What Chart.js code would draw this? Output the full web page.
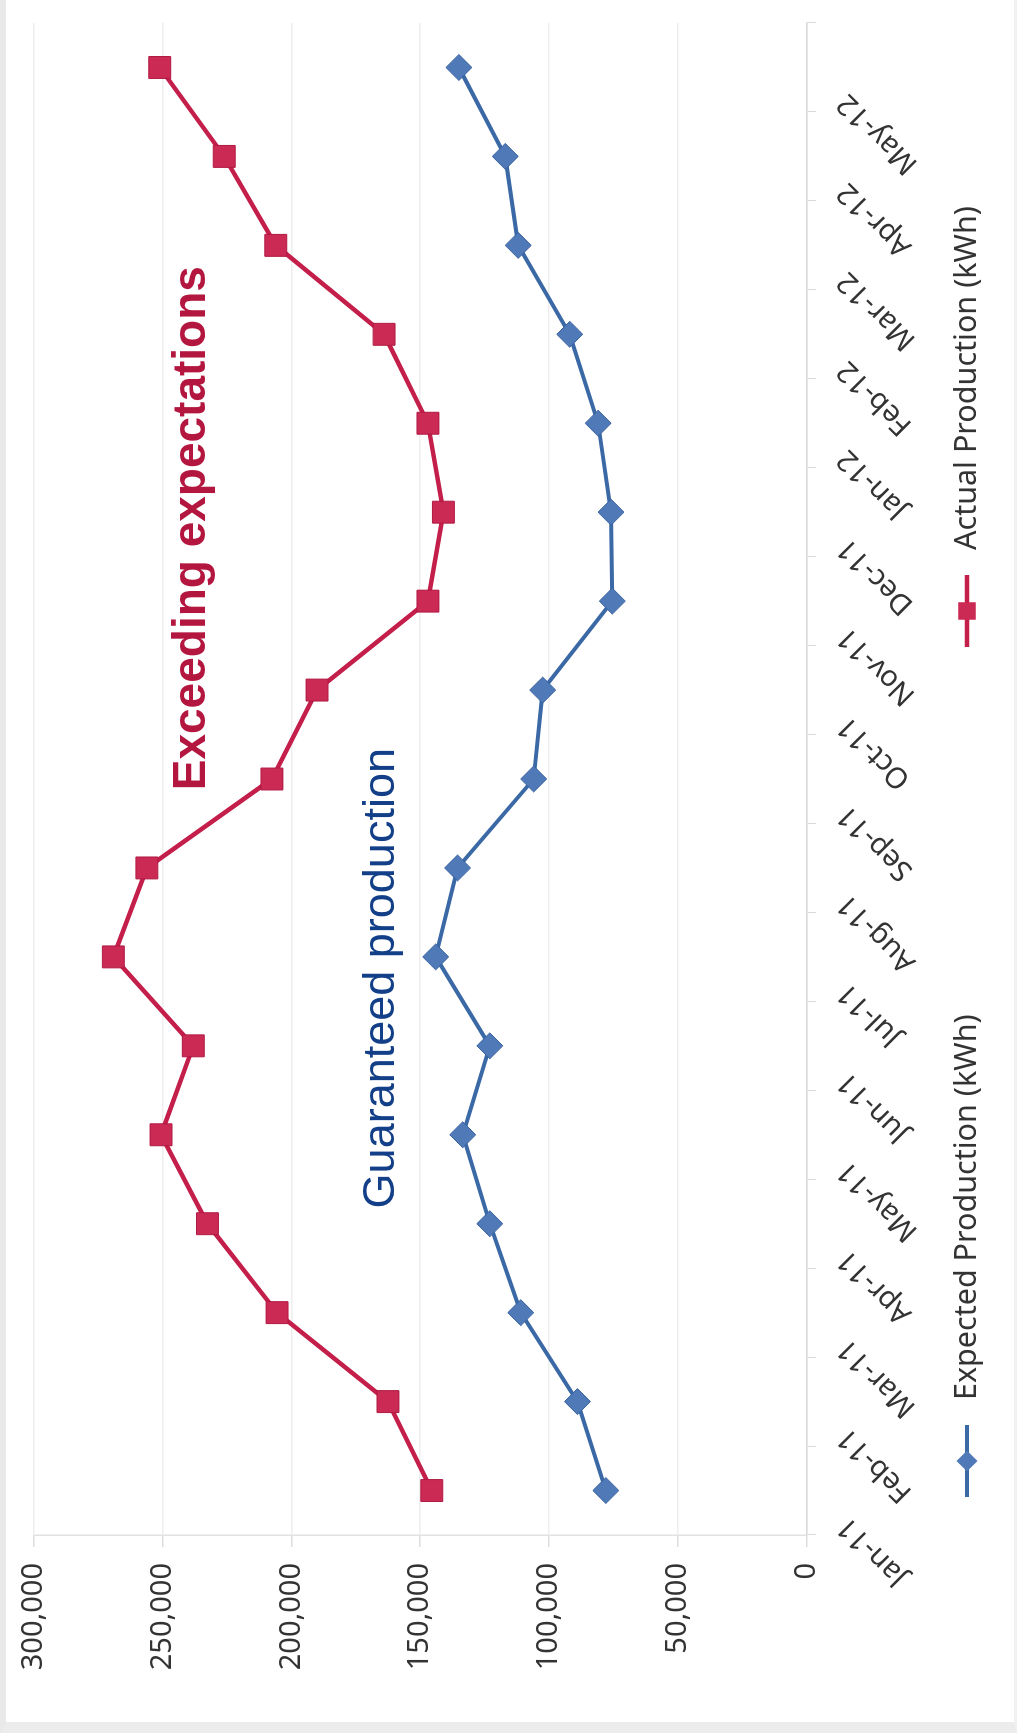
<!DOCTYPE html>
<html>
<head>
<meta charset="utf-8">
<script src="https://cdn.jsdelivr.net/npm/chart.js@4.4.1/dist/chart.umd.min.js"></script>
<style>
  html, body { margin: 0; padding: 0; background: #fff; }
  body { width: 1017px; height: 1733px; overflow: hidden; position: relative; }
  /* the chart is laid out landscape, then turned a quarter turn to the left like the scan */
  #frame { position: absolute; left: 0; top: 0; width: 1733px; height: 1017px;
    transform-origin: 0 0; transform: translateY(1733px) rotate(-90deg); background: #fff; }
  #frame::after { content: ''; position: absolute; inset: 0; pointer-events: none;
    border-top: 6px solid #e9e9e9; border-left: 11px solid #ececec; border-bottom: 3px solid #f1f1f1; }
  #chart { position: absolute; left: 0; top: 0; }
</style>
</head>
<body>
<div id="frame"><canvas id="chart" width="1733" height="1017"></canvas></div>
<script>
const months = ['Jan-11', 'Feb-11', 'Mar-11', 'Apr-11', 'May-11', 'Jun-11', 'Jul-11', 'Aug-11', 'Sep-11',
                'Oct-11', 'Nov-11', 'Dec-11', 'Jan-12', 'Feb-12', 'Mar-12', 'Apr-12', 'May-12'];
const expectedKwh = [78000, 89000, 111000, 123000, 133500, 123000, 144000, 135500, 106000,
                     102500, 75500, 76000, 81000, 92000, 112000, 117000, 135000];
const actualKwh = [145500, 162500, 205500, 232500, 250500, 238000, 269000, 256000, 207500,
                   190000, 147000, 141000, 147000, 164000, 206000, 226000, 251000];
const valueTicks = [0, 50000, 100000, 150000, 200000, 250000, 300000];
const seriesNames = ['Expected Production (kWh)', 'Actual Production (kWh)'];

const inkColor = '#333333';
const labelFont = { family: '"Noto Sans", "Open Sans", sans-serif', size: 29 };

// call-outs written on the plot, anchored to a category index and a value
const notes = [
    { text: 'Exceeding expectations', at: 10.82, value: 233500, color: '#B3173F', font: 'bold 46px "Liberation Sans", Arial, sans-serif' },
    { text: 'Guaranteed production', at: 5.76, value: 160000, color: '#123F87', font: '45px "Liberation Sans", Arial, sans-serif' }
];

const notesPlugin = {
    id: 'notes',
    afterDatasetsDraw(chart) {
        const ctx = chart.ctx;
        const x = chart.scales.x, y = chart.scales.y;
        ctx.save();
        ctx.textAlign = 'center';
        ctx.textBaseline = 'alphabetic';
        notes.forEach(function(n) {
            ctx.font = n.font;
            ctx.fillStyle = n.color;
            ctx.fillText(n.text, x.getPixelForValue(n.at), y.getPixelForValue(n.value));
        });
        ctx.restore();
    }
};

// Excel style legend: line with marker, entries spread under the plot
const legendPlugin = {
    id: 'spreadLegend',
    afterDraw(chart) {
        const ctx = chart.ctx;
        const area = chart.chartArea;
        const starts = [area.left + 38, area.left + 888];
        const yMid = 967;
        ctx.save();
        chart.data.datasets.forEach(function(ds, i) {
            const x0 = starts[i];
            ctx.strokeStyle = ds.borderColor;
            ctx.lineWidth = ds.borderWidth;
            ctx.beginPath();
            ctx.moveTo(x0, yMid);
            ctx.lineTo(x0 + 72, yMid);
            ctx.stroke();
            ctx.fillStyle = ds.pointBackgroundColor;
            ctx.strokeStyle = ds.pointBorderColor;
            ctx.lineWidth = 1;
            Chart.helpers.drawPoint(ctx, { pointStyle: ds.pointStyle, radius: ds.pointRadius * 0.8, rotation: 0 }, x0 + 36, yMid);
            ctx.fillStyle = inkColor;
            ctx.font = '30.5px ' + labelFont.family;
            ctx.textAlign = 'left';
            ctx.textBaseline = 'middle';
            ctx.fillText(ds.label, x0 + 97, yMid);
        });
        ctx.restore();
    }
};

new Chart(document.getElementById('chart'), {
    type: 'line',
    data: {
        labels: months,
        datasets: [
            {
                label: seriesNames[0], data: expectedKwh,
                borderColor: '#3B69A6', borderWidth: 4,
                pointStyle: 'rectRot', pointRadius: 13,
                pointBackgroundColor: '#5079B8', pointBorderColor: '#3A62A0', pointBorderWidth: 1,
                tension: 0
            },
            {
                label: seriesNames[1], data: actualKwh,
                borderColor: '#C41E4A', borderWidth: 4.5,
                pointStyle: 'rect', pointRadius: 15.5,
                pointBackgroundColor: '#CB2A55', pointBorderColor: '#B01A43', pointBorderWidth: 1,
                tension: 0
            }
        ]
    },
    options: {
        responsive: false,
        animation: false,
        devicePixelRatio: 1,
        layout: { padding: { left: 0, right: 23, top: 27, bottom: 0 } },
        plugins: { legend: { display: false }, tooltip: { enabled: false } },
        scales: {
            x: {
                offset: true,
                grid: { offset: true, drawOnChartArea: false, drawTicks: true, tickLength: 9, tickColor: '#d9d9d9' },
                border: { color: '#d9d9d9', width: 1.5 },
                ticks: { autoSkip: false, minRotation: 45, maxRotation: 45, padding: 14, labelOffset: -31, color: inkColor, font: labelFont },
                afterFit(scale) { scale.height = 210; }
            },
            y: {
                min: 0, max: 300000,
                afterBuildTicks(scale) { scale.ticks = valueTicks.map(function(v) { return { value: v }; }); },
                grid: { color: '#eeeeee', lineWidth: 1.5, tickLength: 12, tickColor: '#dddddd' },
                border: { color: '#e2e2e2', width: 1.5 },
                ticks: {
                    padding: 16, color: inkColor, font: labelFont,
                    callback: function(v) { return v.toLocaleString('en-US'); }
                },
                afterFit(scale) { scale.width = 198; }
            }
        }
    },
    plugins: [notesPlugin, legendPlugin]
});
</script>
</body>
</html>
